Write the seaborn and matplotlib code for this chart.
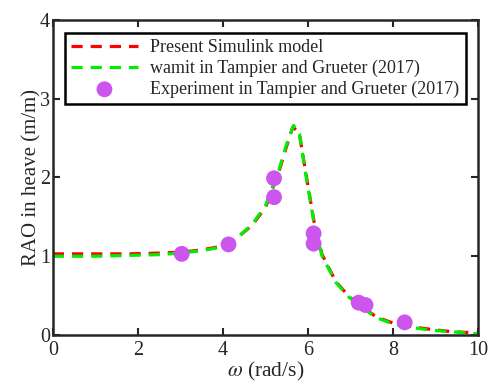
import matplotlib
matplotlib.use("Agg")
import matplotlib.pyplot as plt
import seaborn as sns
import pandas as pd

# Present Simulink model (red)
sim_omega = [0.0, 1.0, 1.8, 2.5, 3.0, 3.5, 4.0, 4.3, 4.68, 5.0, 5.32, 5.48, 5.64,
             5.79, 5.94, 6.14, 6.33, 6.65, 6.96, 7.26, 7.5, 7.6, 8.0, 8.5, 8.9, 9.4, 9.85, 10.0]
sim_rao = [1.03, 1.03, 1.03, 1.04, 1.05, 1.08, 1.13, 1.22, 1.39, 1.62, 2.08, 2.37, 2.64,
           2.57, 2.08, 1.44, 1.02, 0.68, 0.49, 0.36, 0.27, 0.23, 0.15, 0.1, 0.07, 0.04, 0.03, 0.02]

# wamit in Tampier and Grueter (2017) (green)
wam_omega = [0.0, 1.0, 1.8, 2.5, 3.0, 3.5, 4.0, 4.3, 4.68, 5.0, 5.32, 5.48, 5.66,
             5.8, 5.94, 6.14, 6.33, 6.65, 6.96, 7.26, 7.5, 7.6, 8.0, 8.5, 8.9, 9.4, 9.85, 10.0]
wam_rao = [1.0, 1.0, 1.01, 1.02, 1.04, 1.07, 1.12, 1.22, 1.4, 1.64, 2.1, 2.4, 2.66,
           2.55, 2.06, 1.42, 1.0, 0.67, 0.48, 0.35, 0.26, 0.22, 0.14, 0.09, 0.06, 0.04, 0.02, 0.01]

# Experiment in Tampier and Grueter (2017)
exp_omega = [3.03, 4.13, 5.2, 5.2, 6.13, 6.13, 7.19, 7.35, 8.27]
exp_rao = [1.03, 1.15, 1.99, 1.75, 1.29, 1.16, 0.41, 0.38, 0.16]

labels = ["Present Simulink model", "wamit in Tampier and Grueter (2017)",
          "Experiment in Tampier and Grueter (2017)"]

sns.set_style("ticks")
plt.rcParams['font.family'] = ['Liberation Serif', 'DejaVu Serif']
plt.rcParams['mathtext.fontset'] = 'stix'

fig = plt.figure(figsize=(4.89, 3.85), dpi=100)
ax = fig.add_axes([0.108, 0.130, 0.870, 0.818])

df_sim = pd.DataFrame({"omega": sim_omega, "rao": sim_rao})
df_wam = pd.DataFrame({"omega": wam_omega, "rao": wam_rao})
df_exp = pd.DataFrame({"omega": exp_omega, "rao": exp_rao})

sns.lineplot(data=df_sim, x="omega", y="rao", ax=ax, color="#ff0000", lw=2.3,
             dashes=False, label=labels[0], sort=False)
ax.lines[-1].set_dashes((3.5, 2.5))
sns.lineplot(data=df_wam, x="omega", y="rao", ax=ax, color="#00ee00", lw=2.3,
             dashes=False, label=labels[1], sort=False)
ax.lines[-1].set_dashes((3.5, 2.5))
sns.scatterplot(data=df_exp, x="omega", y="rao", ax=ax, color="#cc55ee", s=130,
                edgecolor="none", label=labels[2], zorder=5)

ax.set_xlim(0, 10)
ax.set_ylim(0, 4)
ax.set_xticks([0, 2, 4, 6, 8, 10])
ax.set_yticks([0, 1, 2, 3, 4])
ax.set_xlabel(r"$\omega$ (rad/s)", fontsize=15.5, labelpad=0)
ax.set_ylabel("RAO in heave (m/m)", fontsize=15, labelpad=-1)
ax.tick_params(direction="in", length=5, width=1.5, labelsize=14.5, top=True, right=True)
ax.tick_params(axis="x", pad=4)
ax.tick_params(axis="y", pad=2)
for s in ax.spines.values():
    s.set_linewidth(1.8)
    s.set_visible(True)

leg = ax.legend(loc="upper left", bbox_to_anchor=(0.028, 0.959), fontsize=13,
                frameon=True, fancybox=False, borderpad=0.35, labelspacing=0.2,
                handlelength=3.7, handletextpad=0.7, borderaxespad=0)
leg.get_frame().set_edgecolor("black")
leg.get_frame().set_linewidth(1.8)
leg.get_frame().set_facecolor("white")
leg.get_frame().set_alpha(1)

fig.savefig("out.png", dpi=100)
